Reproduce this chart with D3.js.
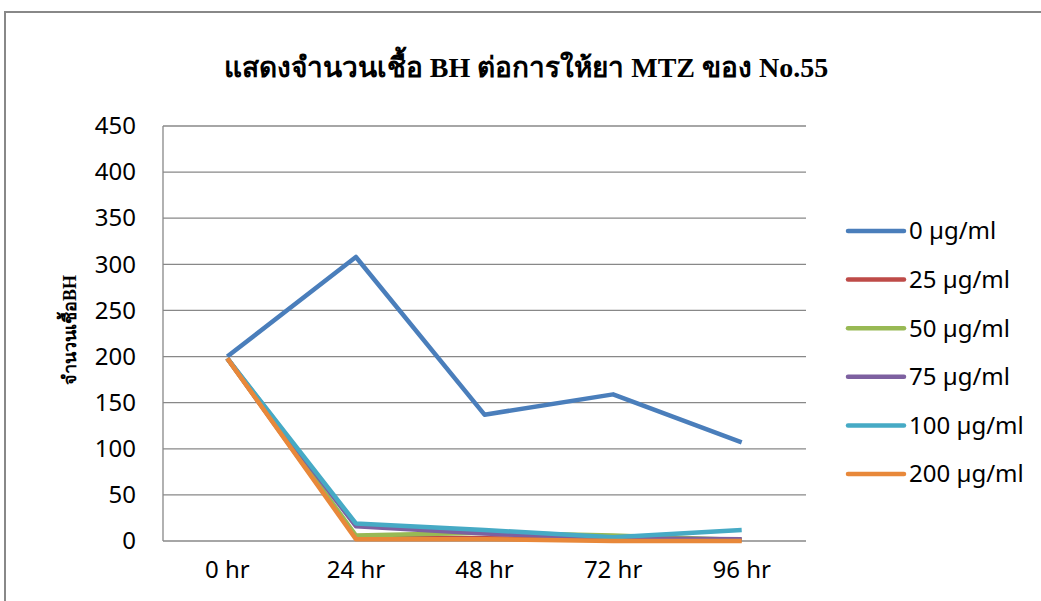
<!DOCTYPE html>
<html>
<head>
<meta charset="utf-8">
<title>BH vs MTZ No.55</title>
<script src="https://d3js.org/d3.v7.min.js"></script>
<style>
  body { margin: 0; background: #fff; }
  .grid line { stroke: #888; stroke-width: 1.3px; }
  .tick text { font-family: "Noto Sans", sans-serif; font-size: 24px; fill: #000; }
  .line { fill: none; stroke-width: 4.5px; stroke-linejoin: round; }
</style>
</head>
<body>
<svg width="1041" height="601"></svg>
<script>
// data
var hours = ["0 hr", "24 hr", "48 hr", "72 hr", "96 hr"];
var seriesNames = ["0 µg/ml", "25 µg/ml", "50 µg/ml", "75 µg/ml", "100 µg/ml", "200 µg/ml"];
var dose0   = [200, 308, 137, 159, 107];
var dose25  = [198, 4, 3, 1, 1];
var dose50  = [198, 6, 9, 6, 1];
var dose75  = [198, 16, 8, 3, 2];
var dose100 = [198, 19, 12, 4, 12];
var dose200 = [198, 2, 2, 0, 0];
var yTicks = [0, 50, 100, 150, 200, 250, 300, 350, 400, 450];
var colors = ["#4A7EBB", "#BE4B48", "#98B954", "#7D60A0", "#46AAC5", "#E8883A"];

var allSeries = [dose0, dose25, dose50, dose75, dose100, dose200];

var svg = d3.select("svg"),
    margin = {top: 126, right: 235, bottom: 60, left: 163},
    width = +svg.attr("width") - margin.left - margin.right,
    height = +svg.attr("height") - margin.top - margin.bottom;

// outer frame (cut by the window edges)
svg.append("path")
    .attr("d", "M5,601V12H1041")
    .attr("fill", "none")
    .attr("stroke", "#888")
    .attr("stroke-width", 2);

var x = d3.scaleBand().domain(hours).range([0, width]);
var y = d3.scaleLinear().domain([0, 450]).range([height, 0]);

var g = svg.append("g")
    .attr("transform", "translate(" + margin.left + "," + margin.top + ")");

// gridlines
g.append("g")
    .attr("class", "grid")
    .selectAll("line")
    .data(yTicks)
    .enter().append("line")
      .attr("x1", 0).attr("x2", width)
      .attr("y1", function(d) { return y(d); })
      .attr("y2", function(d) { return y(d); });

g.append("line")
    .attr("x1", 0).attr("x2", 0)
    .attr("y1", 0).attr("y2", height)
    .attr("stroke", "#888").attr("stroke-width", 1.3);

// axes
var yAxis = g.append("g")
    .call(d3.axisLeft(y).tickValues(yTicks).tickSize(0).tickPadding(27));
yAxis.select(".domain").remove();

var xAxis = g.append("g")
    .attr("transform", "translate(0," + height + ")")
    .call(d3.axisBottom(x).tickSize(0).tickPadding(20));
xAxis.select(".domain").remove();

// lines
var line = d3.line()
    .x(function(d, i) { return x(hours[i]) + x.bandwidth() / 2; })
    .y(function(d) { return y(d); });

g.selectAll(".line")
    .data(allSeries)
    .enter().append("path")
      .attr("class", "line")
      .attr("stroke", function(d, i) { return colors[i]; })
      .attr("d", line);

// title
svg.append("text")
    .attr("x", 526)
    .attr("y", 77)
    .attr("text-anchor", "middle")
    .style("font-family", "'Liberation Serif', 'Noto Serif', serif")
    .style("font-weight", "bold")
    .style("font-size", "28px")
    .text("แสดงจำนวนเชื้อ BH ต่อการให้ยา MTZ ของ No.55");

// y axis title
svg.append("text")
    .attr("transform", "translate(76,330) rotate(-90)")
    .attr("text-anchor", "middle")
    .style("font-family", "'Liberation Serif', 'Noto Serif', serif")
    .style("font-weight", "bold")
    .style("font-size", "18px")
    .text("จำนวนเชื้อBH");

// legend
var legend = svg.append("g")
    .attr("transform", "translate(848,231)");

var item = legend.selectAll("g")
    .data(seriesNames)
    .enter().append("g")
      .attr("transform", function(d, i) { return "translate(0," + (i * 48.6) + ")"; });

item.append("line")
    .attr("x1", 0).attr("x2", 56)
    .attr("stroke", function(d, i) { return colors[i]; })
    .attr("stroke-width", 4.5)
    .attr("stroke-linecap", "round");

item.append("text")
    .attr("x", 61)
    .attr("dy", "0.35em")
    .style("font-family", "'Noto Sans', sans-serif")
    .style("font-size", "24px")
    .text(function(d) { return d; });
</script>
</body>
</html>
